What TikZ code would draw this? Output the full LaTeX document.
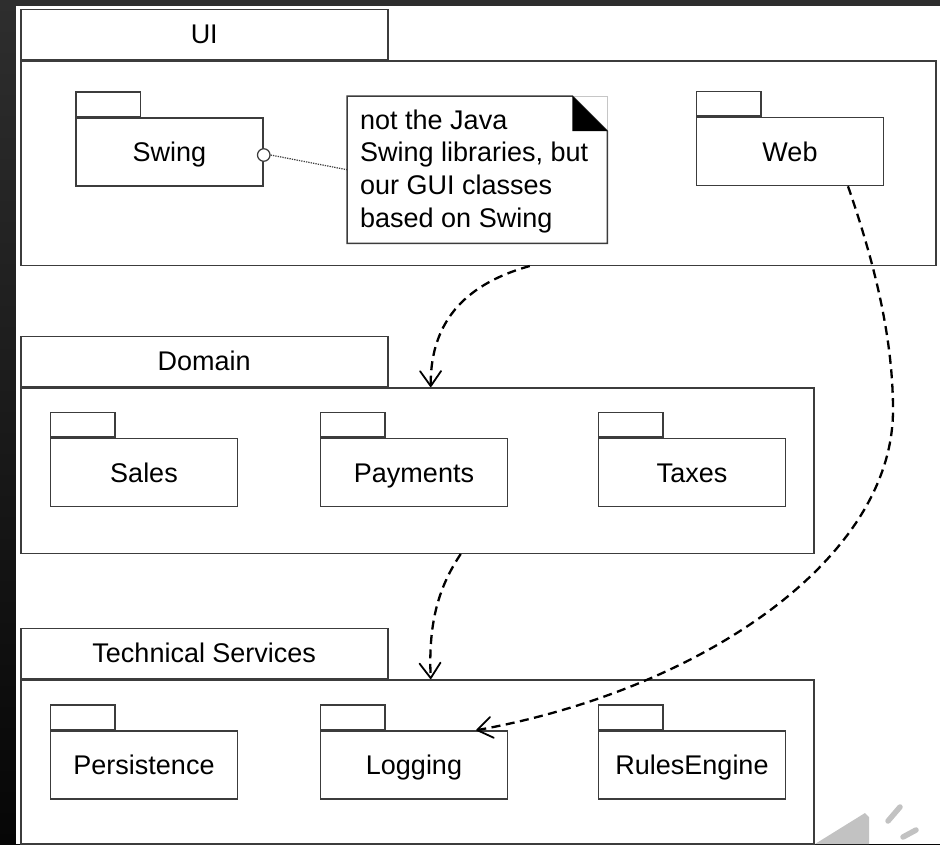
\documentclass[tikz,border=0pt]{standalone}
\usepackage{fontspec}
\setmainfont{Liberation Sans}
\usetikzlibrary{arrows.meta,calc}

\definecolor{edge}{HTML}{3C3C3C}
\definecolor{bgtop}{HTML}{2E2E2E}
\definecolor{bgbot}{HTML}{060606}
\definecolor{spk}{HTML}{C2C2C2}
\newcommand\pkgfont{\fontsize{27}{32.7}\selectfont}

\tikzset{
  box/.style={draw=edge, line width=1.5pt, fill=white, inner sep=0pt, rectangle},
  pkgbody/.style={box, minimum width=187pt, minimum height=68pt,
    font=\pkgfont, text height=19.3pt, text depth=0pt},
  pkgtab/.style={box, minimum width=64.5pt, minimum height=24.5pt, anchor=south west},
  layerbody/.style={box, anchor=north west},
  layertab/.style={box, minimum width=367pt, minimum height=50pt, anchor=south west,
    font=\pkgfont, text height=19.3pt, text depth=0pt},
  dep/.style={draw=black, line width=2.3pt, dash pattern=on 9pt off 5.5pt,
    -{Straight Barb[length=15pt,width=21pt,line width=1.8pt,round]}},
  notelink/.style={draw=edge, line width=1.2pt, dash pattern=on 1.3pt off 1.1pt},
}

\begin{document}
\begin{tikzpicture}[x=1pt, y=-1pt]
  \useasboundingbox (0,0) rectangle (940,844);

  % slide backdrop
  \shade[top color=bgtop, bottom color=bgbot] (0,0) rectangle (940,844);
  \fill[white] (16,6) rectangle (940,844);

  % ---------- UI layer ----------
  \node[layerbody, minimum width=915pt, minimum height=204.5pt] (uibody) at (20,60) {};
  \node[layertab] (uitab) at (uibody.north west) {UI};

  \node[pkgbody] (swing) at (169.5,152) {Swing};
  \node[pkgtab] (swingtab) at (swing.north west) {};

  \node[pkgbody] (web) at (790,151.5) {Web};
  \node[pkgtab] (webtab) at (web.north west) {};

  % note attached to Swing
  \node[inner sep=0pt, minimum width=260pt, minimum height=147pt, anchor=north west]
    (note) at (347,96) {};
  \fill[white] (note.north west) rectangle (note.south east);
  \draw[gray!45, line width=0.8pt] ([xshift=-35pt]note.north east) -- (note.north east)
    -- ([yshift=-35pt]note.north east);
  \draw[edge, line width=1.5pt, line join=miter]
    (note.north west) -- ([xshift=-35pt]note.north east)
    -- ([yshift=-35pt]note.north east) -- (note.south east)
    -- (note.south west) -- cycle;
  \fill[black] ([xshift=-35pt]note.north east) -- ([xshift=-35pt,yshift=-35pt]note.north east)
    -- ([yshift=-35pt]note.north east) -- cycle;
  \node[inner sep=0pt, anchor=north west, align=left, font=\pkgfont] (notetext)
    at (360,109.5) {not the Java\\Swing libraries, but\\our GUI classes\\based on Swing};

  \node[circle, draw=edge, fill=white, line width=1.2pt, minimum size=12.5pt, inner sep=0pt]
    (anchorball) at ([yshift=-3pt]swing.east) {};
  \draw[notelink] (anchorball.east) -- (note.west);

  % ---------- Domain layer ----------
  \node[layerbody, minimum width=793pt, minimum height=165.5pt] (dombody) at (20,387) {};
  \node[layertab] (domtab) at (dombody.north west) {Domain};

  \node[pkgbody] (sales) at (144,472.5) {Sales};
  \node[pkgtab] (salestab) at (sales.north west) {};
  \node[pkgbody] (payments) at (414,472.5) {Payments};
  \node[pkgtab] (paymentstab) at (payments.north west) {};
  \node[pkgbody] (taxes) at (692,472.5) {Taxes};
  \node[pkgtab] (taxestab) at (taxes.north west) {};

  % ---------- Technical Services layer ----------
  \node[layerbody, minimum width=793pt, minimum height=164pt] (techbody) at (20,679) {};
  \node[layertab] (techtab) at (techbody.north west) {Technical Services};

  \node[pkgbody] (persistence) at (144,765) {Persistence};
  \node[pkgtab] (persistencetab) at (persistence.north west) {};
  \node[pkgbody] (logging) at (414,765) {Logging};
  \node[pkgtab] (loggingtab) at (logging.north west) {};
  \node[pkgbody] (rules) at (692,765) {RulesEngine};
  \node[pkgtab] (rulestab) at (rules.north west) {};

  % ---------- dependencies ----------
  \draw[dep] ([xshift=51.5pt]uibody.south)
    .. controls (480,280) and (430,310) .. ([xshift=13.5pt]dombody.north);
  \draw[dep] ([xshift=43.5pt]dombody.south)
    .. controls (440,585) and (428,620) .. ([xshift=13.5pt]techbody.north);
  \coordinate (webbend) at (893,410);
  \draw[dep] ([xshift=58pt]web.south)
    .. controls (870,250) and (893,330) .. (webbend)
    .. controls (893,560) and (700,690) .. ([xshift=-32pt]logging.north east);

  % audio icon in the corner
  \fill[spk] (815,844) -- (865,813) -- (869,817) -- (869,844) -- cycle;
  \draw[spk, line width=5.5pt, line cap=round] (888,821) -- (900,807);
  \draw[spk, line width=5.5pt, line cap=round] (903,837) -- (916,830);
\end{tikzpicture}
\end{document}
